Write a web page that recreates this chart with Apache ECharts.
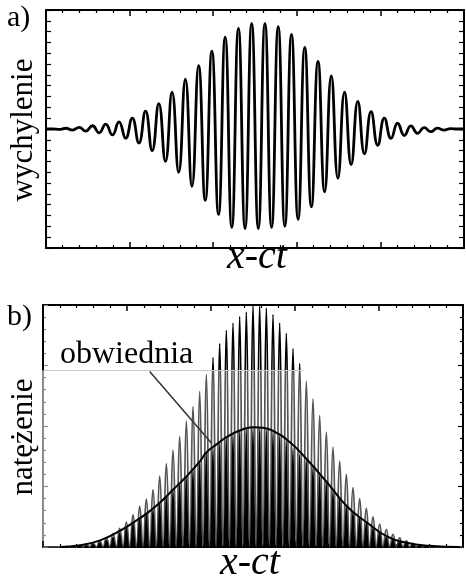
<!DOCTYPE html>
<html>
<head>
<meta charset="utf-8">
<script src="https://cdn.jsdelivr.net/npm/echarts@6.0.0/dist/echarts.min.js"></script>
<style>
  html, body { margin: 0; padding: 0; background: #fff; }
  #chart { width: 466px; height: 580px; }
</style>
</head>
<body>
<div id="chart"></div>
<script>
// a) wychylenie - kolejne ekstrema fali (co pol okresu)
const waveA = [
  0, 0, -0.004, 0.007, -0.01, 0.015, -0.02, 0.03, -0.035, 0.045,
  -0.055, 0.065, -0.085, 0.10, -0.13, 0.165, -0.20, 0.235, -0.30, 0.34,
  -0.40, 0.46, -0.53, 0.585, -0.66, 0.72, -0.79, 0.85, -0.91, 0.93,
  -0.92, 0.975, -0.92, 0.975, -0.91, 0.945, -0.9, 0.875, -0.835, 0.755,
  -0.72, 0.625, -0.58, 0.49, -0.455, 0.34, -0.33, 0.255, -0.23, 0.16,
  -0.15, 0.10, -0.087, 0.053, -0.06, 0.028, -0.04, 0.012, -0.025, 0.008,
  -0.01, 0.004, 0, 0
]

// b) natezenie - szczyty i zera (co pol okresu)
const intensityB = [
  0, 0, 0, 0, 0, 0, 0, 0.005, 0, 0.01,
  0, 0.02, 0, 0.04, 0, 0.07, 0, 0.1, 0, 0.15,
  0, 0.22, 0, 0.31, 0, 0.41, 0, 0.53, 0, 0.67,
  0, 0.79, 0, 0.95, 0, 1.17, 0, 1.38, 0, 1.6,
  0, 1.83, 0, 2.08, 0, 2.32, 0, 2.57, 0, 2.85,
  0, 3.13, 0, 3.36, 0, 3.58, 0, 3.7, 0, 3.81,
  0, 3.88, 0, 4.0, 0, 3.98, 0, 3.95, 0, 3.84,
  0, 3.7, 0, 3.53, 0, 3.28, 0, 3.03, 0, 2.74,
  0, 2.45, 0, 2.17, 0, 1.9, 0, 1.65, 0, 1.42,
  0, 1.2, 0, 0.98, 0, 0.8, 0, 0.64, 0, 0.5,
  0, 0.38, 0, 0.29, 0, 0.21, 0, 0.15, 0, 0.1,
  0, 0.06, 0, 0.04, 0, 0.02, 0, 0.01, 0, 0.005,
  0, 0, 0, 0, 0, 0, 0
]
// czarne slupki pod obwiednia
const innerB = [
  0, 0, 0, 0, 0, 0, 0, 0, 0, 0.005,
  0, 0.02, 0, 0.03, 0, 0.05, 0, 0.08, 0, 0.12,
  0, 0.17, 0, 0.24, 0, 0.32, 0, 0.4, 0, 0.48,
  0, 0.55, 0, 0.63, 0, 0.73, 0, 0.84, 0, 0.95,
  0, 1.06, 0, 1.16, 0, 1.28, 0, 1.42, 0, 1.56,
  0, 1.65, 0, 1.73, 0, 1.82, 0, 1.88, 0, 1.93,
  0, 1.96, 0, 1.98, 0, 1.97, 0, 1.95, 0, 1.92,
  0, 1.85, 0, 1.77, 0, 1.65, 0, 1.55, 0, 1.45,
  0, 1.34, 0, 1.2, 0, 1.08, 0, 0.94, 0, 0.81,
  0, 0.68, 0, 0.59, 0, 0.5, 0, 0.41, 0, 0.32,
  0, 0.25, 0, 0.17, 0, 0.13, 0, 0.1, 0, 0.07,
  0, 0.05, 0, 0.03, 0, 0.02, 0, 0.01, 0, 0.005,
  0, 0, 0, 0, 0, 0, 0
]
// obwiednia
const envX = [0.2, 0.44, 0.68, 0.92, 1.07, 1.24, 1.39, 1.55, 1.71, 1.87, 1.95, 2.07, 2.19,
  2.35, 2.5, 2.62, 2.74, 2.94, 3.14, 3.38, 3.62, 3.86, 4.1, 4.33, 4.6, 4.96]
const envY = [0, 0.03, 0.11, 0.27, 0.4, 0.56, 0.73, 0.95, 1.17, 1.42, 1.57, 1.7, 1.82,
  1.93, 1.98, 1.97, 1.92, 1.73, 1.45, 1.07, 0.67, 0.4, 0.17, 0.07, 0.02, 0]
const pointerX = [1.27, 2.01]
const pointerY = [2.9, 1.71]
const fadeLevel = 2.92

const serif = '"Liberation Serif", "Times New Roman", serif'
const gridB = { left: 43, right: 3, top: 305, height: 242 }
const maxB = 4
const fadeGray = '#8c8c8c'

function frameX(grid, pos) {
  return {
    type: 'value', gridIndex: grid, position: pos, min: 0, max: 5, interval: 1,
    axisLine: { show: true, onZero: false, lineStyle: { color: '#000', width: 2 } },
    axisTick: { show: true, inside: true, length: 6, lineStyle: { color: '#000', width: 1.5 } },
    minorTick: { show: true, splitNumber: 5, length: 3, lineStyle: { color: '#000', width: 1.2 } },
    axisLabel: { show: false }, splitLine: { show: false }, minorSplitLine: { show: false }
  }
}
function frameY(grid, pos, min, max, interval, minor, color) {
  return {
    type: 'value', gridIndex: grid, position: pos, min: min, max: max, interval: interval,
    axisLine: { show: true, onZero: false, lineStyle: { color: color || '#000', width: 2 } },
    axisTick: { show: true, inside: true, length: 5, lineStyle: { color: color || '#000', width: 1.2 } },
    minorTick: { show: minor, splitNumber: 5, length: 3, lineStyle: { color: color || '#000', width: 1.2 } },
    axisLabel: { show: false }, splitLine: { show: false }, minorSplitLine: { show: false }
  }
}

// powyzej poziomu fadeLevel slupki sa czarne, ponizej szare (wyblakly skan)
const cut = (maxB - fadeLevel) / maxB
const spikeColor = new echarts.graphic.LinearGradient(0, gridB.top, 0, gridB.top + gridB.height, [
  { offset: 0, color: '#000' }, { offset: cut, color: '#000' },
  { offset: cut, color: '#555' }, { offset: 1, color: '#555' }
], true)

let myChart = echarts.init(document.getElementById('chart'), null, { renderer: 'canvas' })
myChart.setOption({
  animation: false,
  backgroundColor: '#fff',
  grid: [
    { left: 46, right: 2, top: 10, height: 238, outerBoundsMode: 'none' },
    Object.assign({ outerBoundsMode: 'none' }, gridB)
  ],
  xAxis: [
    { type: 'category', gridIndex: 0, show: false, boundaryGap: false, data: waveA.map((v, i) => i) },
    frameX(0, 'bottom'),
    frameX(0, 'top'),
    { type: 'category', gridIndex: 1, show: false, boundaryGap: false, data: intensityB.map((v, i) => i) },
    frameX(1, 'bottom'),
    frameX(1, 'top')
  ],
  yAxis: [
    frameY(0, 'left', -1.1, 1.1, 0.1, false),
    frameY(0, 'right', -1.1, 1.1, 0.1, false),
    frameY(1, 'left', 0, maxB, 1, true, fadeGray),
    frameY(1, 'right', 0, maxB, 1, true)
  ],
  series: [
    {
      type: 'line', xAxisIndex: 0, yAxisIndex: 0, data: waveA, smooth: true,
      symbol: 'none', lineStyle: { color: '#000', width: 2.8 }
    },
    {
      type: 'line', xAxisIndex: 3, yAxisIndex: 2, data: intensityB, smooth: true,
      symbol: 'none', lineStyle: { color: spikeColor, width: 1.7 }, z: 2
    },
    {
      type: 'line', xAxisIndex: 3, yAxisIndex: 2, data: innerB, smooth: true,
      symbol: 'none', lineStyle: { width: 0 },
      areaStyle: { color: '#000', opacity: 1 }, z: 3
    },
    {
      type: 'line', xAxisIndex: 4, yAxisIndex: 2, data: envX.map((x, i) => [x, envY[i]]),
      smooth: true, symbol: 'none', lineStyle: { color: '#000', width: 2 }, z: 4,
      markLine: {
        silent: true, symbol: 'none', label: { show: false },
        data: [
          [{ coord: [pointerX[0], pointerY[0]], lineStyle: { color: '#333', width: 1.5, type: 'solid' } },
           { coord: [pointerX[1], pointerY[1]] }],
          [{ coord: [0, fadeLevel], lineStyle: { color: '#c8c8c8', width: 1, type: 'solid' } },
           { coord: [3.09, fadeLevel] }],
          [{ coord: [0, fadeLevel], lineStyle: { color: '#000', width: 2, type: 'solid' } },
           { coord: [0, maxB] }]
        ]
      }
    }
  ],
  graphic: [
    { type: 'text', x: 7, y: 18, style: { text: 'a)', font: '30px ' + serif, fill: '#000', verticalAlign: 'middle' } },
    { type: 'text', x: 24, y: 130, rotation: Math.PI / 2,
      style: { text: 'wychylenie', font: '31px ' + serif, fill: '#000', align: 'center', verticalAlign: 'middle' } },
    { type: 'text', x: 257, y: 257, style: { text: 'x-ct', font: 'italic 40px ' + serif, fill: '#000', align: 'center', verticalAlign: 'middle' } },
    { type: 'text', x: 7, y: 317, style: { text: 'b)', font: '30px ' + serif, fill: '#000', verticalAlign: 'middle' } },
    { type: 'text', x: 24, y: 437, rotation: Math.PI / 2,
      style: { text: 'natężenie', font: '31px ' + serif, fill: '#000', align: 'center', verticalAlign: 'middle' } },
    { type: 'text', x: 60, y: 355, style: { text: 'obwiednia', font: '32px ' + serif, fill: '#000', verticalAlign: 'middle' } },
    { type: 'text', x: 250, y: 563, style: { text: 'x-ct', font: 'italic 40px ' + serif, fill: '#000', align: 'center', verticalAlign: 'middle' } }
  ]
})
window.onresize = function () {
  myChart.resize()
}
</script>
</body>
</html>
